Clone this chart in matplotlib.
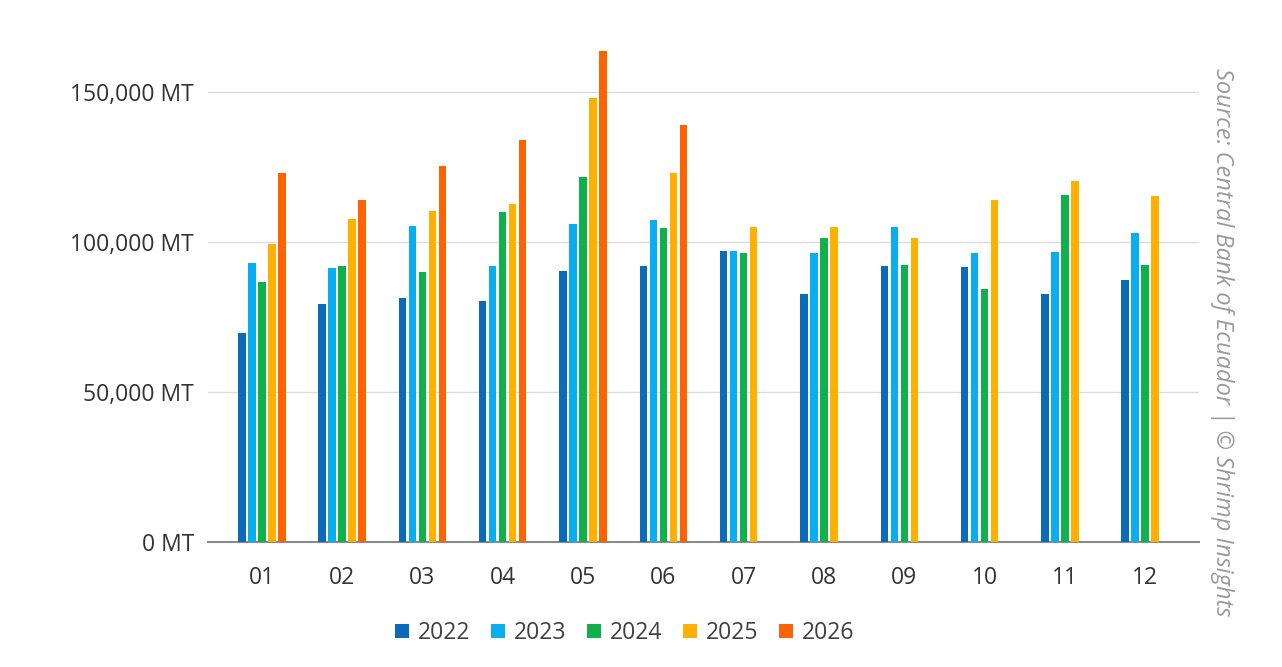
import numpy as np
import matplotlib
matplotlib.use("Agg")
import matplotlib.pyplot as plt
from matplotlib.ticker import FuncFormatter

plt.rcParams['font.family'] = ['Open Sans', 'DejaVu Sans']

# monthly shrimp exports, thousand MT
months = ['01', '02', '03', '04', '05', '06', '07', '08', '09', '10', '11', '12']
years = ['2022', '2023', '2024', '2025', '2026']
y2022 = [69.9, 79.5, 81.6, 80.5, 90.4, 92.0, 97.2, 82.8, 92.1, 91.7, 82.8, 87.6]
y2023 = [93.2, 91.6, 105.6, 92.0, 106.0, 107.3, 97.2, 96.4, 105.1, 96.4, 96.8, 103.2]
y2024 = [86.9, 92.0, 90.1, 110.0, 121.9, 104.9, 96.4, 101.5, 92.6, 84.3, 115.8, 92.3]
y2025 = [99.6, 107.9, 110.6, 112.7, 148.0, 123.2, 105.1, 105.1, 101.5, 114.1, 120.5, 115.5]
y2026 = [123.2, 114.1, 125.6, 134.2, 163.9, 139.2]
colors = ['#0b6bb9', '#08aef0', '#10b04c', '#ffb000', '#ff6200']

series = [y2022, y2023, y2024, y2025, y2026]

fig = plt.figure(figsize=(12.82, 6.67), dpi=100)
ax = fig.add_axes([0.1622, 0.187, 0.7731, 0.742])

slot = 0.1245
width = 0.094
for i, (vals, col, lab) in enumerate(zip(series, colors, years)):
    x = np.arange(len(vals)) + (i - 2) * slot
    ax.bar(x, np.array(vals) * 1000, width=width, color=col, label=lab, zorder=3)

ax.set_xlim(-0.67, 11.67)
ax.set_ylim(0, 165000)
ax.set_yticks([0, 50000, 100000, 150000])
ax.yaxis.set_major_formatter(FuncFormatter(lambda v, p: f'{int(v):,} MT'))
ax.set_xticks(range(len(months)))
ax.set_xticklabels(months)

ax.grid(axis='y', color='#dcdcdc', linewidth=1, zorder=0)
for s in ['top', 'right', 'left']:
    ax.spines[s].set_visible(False)
ax.spines['bottom'].set_color('#8a8a8a')
ax.spines['bottom'].set_linewidth(1.5)
ax.tick_params(axis='both', length=0, labelsize=16.5, labelcolor='#333333')
ax.tick_params(axis='y', pad=10)
ax.tick_params(axis='x', pad=17)

fig.legend(loc='center', bbox_to_anchor=(0.4875, 0.051), ncol=5, frameon=False,
           fontsize=16.5, handlelength=0.6, handleheight=0.6, handletextpad=0.4,
           columnspacing=0.9, labelcolor='#404040')

fig.text(0.9535, 0.487, 'Source: Central Bank of Ecuador | © Shrimp Insights',
         rotation=270, ha='center', va='center', fontsize=17, style='italic',
         color='#9a9a9a')

fig.savefig('out.png', dpi=100, facecolor='white')
